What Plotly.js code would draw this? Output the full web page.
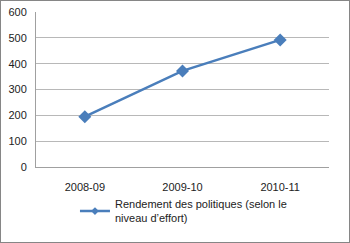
<!DOCTYPE html>
<html><head><meta charset="utf-8">
<script src="https://cdn.plot.ly/plotly-3.0.1.min.js"></script>
<style>
html,body{margin:0;padding:0;background:#fff;}
#frame{position:absolute;left:0;top:0;width:348px;height:241px;border:1px solid #868686;}
#chart{position:absolute;left:0;top:0;width:350px;height:243px;}
</style></head>
<body><div id="frame"></div><div id="chart"></div>
<script>
var categories = ["2008-09", "2009-10", "2010-11"];
var values = [195, 372, 492];
var seriesName = "Rendement des politiques (selon le<br>niveau d\u2019effort)";
var yTicks = [0, 100, 200, 300, 400, 500, 600];

var trace = {
  x: categories, y: values, name: seriesName, type: "scatter", mode: "lines+markers",
  showlegend: false,
  line: {color: "#4a7ebb", width: 2.5},
  marker: {symbol: "diamond", size: 10, color: "#4a7ebb"}
};
var legendTrace = {
  x: [null], y: [null], name: seriesName, type: "scatter", mode: "lines+markers",
  line: {color: "#4a7ebb", width: 2.5},
  marker: {symbol: "diamond", size: 6, color: "#4a7ebb"}
};
var layout = {
  width: 350, height: 243,
  margin: {l: 36, r: 21, t: 12, b: 76, autoexpand: false},
  paper_bgcolor: "rgba(0,0,0,0)", plot_bgcolor: "rgba(0,0,0,0)",
  font: {family: "Liberation Sans, Arial, sans-serif", size: 11, color: "#222"},
  showlegend: true,
  legend: {x: 0.133, xanchor: "left", y: -0.15, yanchor: "top", bgcolor: "rgba(0,0,0,0)",
           font: {size: 11, color: "#222"}, tracegroupgap: 0},
  xaxis: {type: "category", range: [-0.5, 2.5], showgrid: false, showline: true, linecolor: "#a0a0a0", linewidth: 1,
          ticks: "", ticklabelstandoff: 10, tickfont: {size: 11}, fixedrange: true},
  yaxis: {range: [0, 600], tickvals: yTicks, showgrid: true, gridcolor: "#b8b8b8", gridwidth: 1,
          showline: true, linecolor: "#a0a0a0", linewidth: 1, zeroline: false, ticks: "",
          ticklabelstandoff: 6, tickfont: {size: 11}}
};
Plotly.newPlot("chart", [trace, legendTrace], layout, {displayModeBar: false, staticPlot: true});
</script></body></html>
